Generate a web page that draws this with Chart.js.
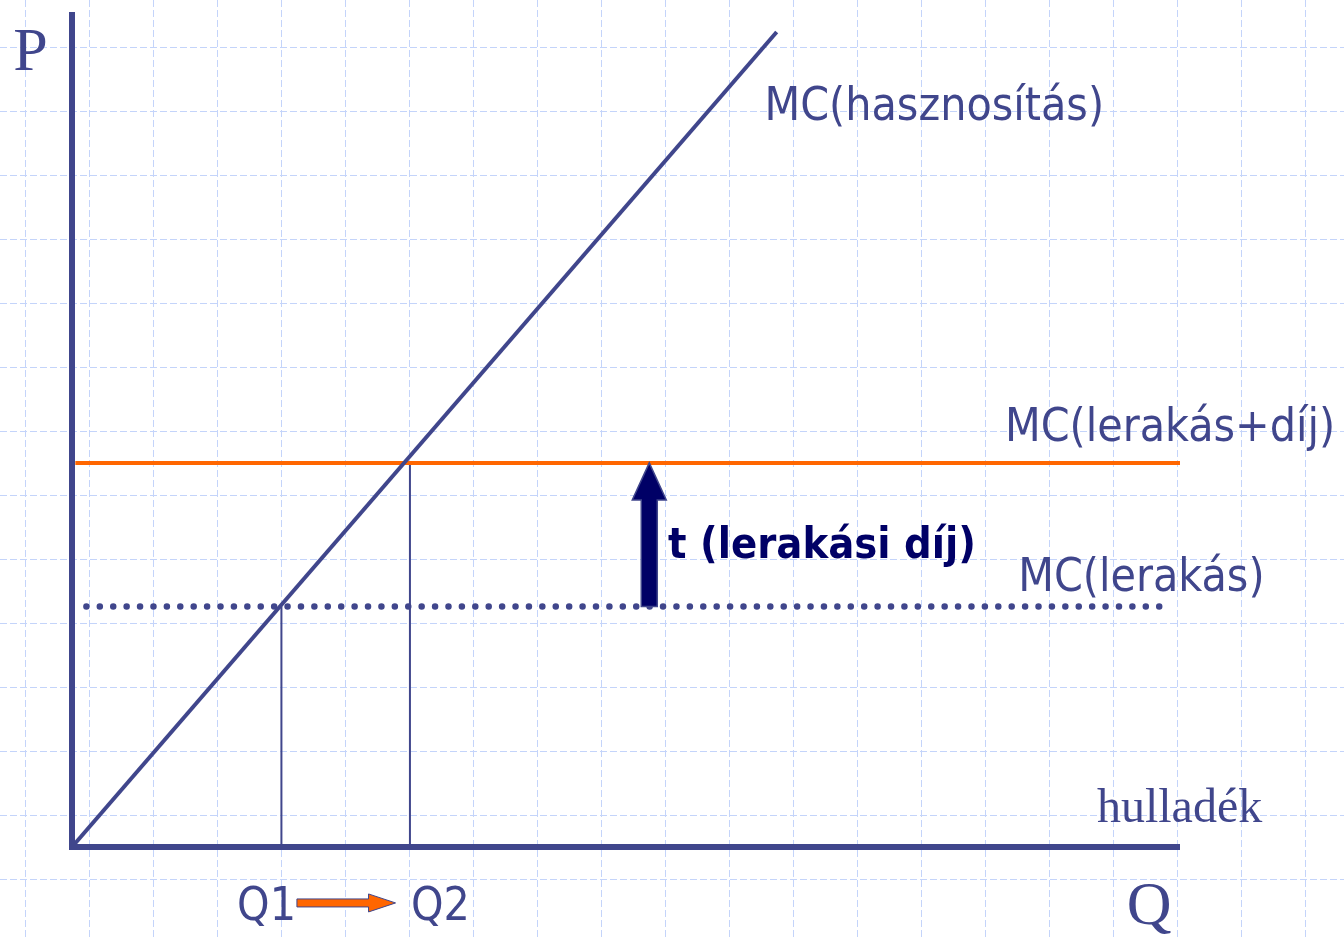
<!DOCTYPE html>
<html>
<head>
<meta charset="utf-8">
<script src="https://cdn.jsdelivr.net/npm/chart.js@4.4.1/dist/chart.umd.min.js"></script>
<style>
html,body{margin:0;padding:0;background:#fff;}
#wrap{position:relative;width:1344px;height:937px;}
canvas{display:block;}
</style>
</head>
<body>
<div id="wrap"><canvas id="c" width="1344" height="937"></canvas></div>
<script>
// ---- data (economic model values, in chart units) ----
const mcHasznositas = [{x:0, y:0}, {x:63.6, y:97.6}];   // rising MC of recovery
const mcLerakasDij  = [{x:0.3, y:46.0}, {x:100, y:46.0}]; // MC of landfill + fee
const mcLerakas     = [{x:1.3, y:28.8}, {x:99.2, y:28.8}]; // MC of landfill
const qValues       = [18.9, 30.5];                        // Q1, Q2
const qLabels       = ['Q1', 'Q2'];
const feeArrowX     = 52.1;
const seriesLabels  = ['MC(hasznosítás)', 'MC(lerakás+díj)', 'MC(lerakás)', 't (lerakási díj)'];
const axisLabels    = ['P', 'Q', 'hulladék'];

const NAVY = '#40468c';
const ORANGE = '#ff6600';
const DARK = '#000066';
const SANS = '"DejaVu Sans Condensed", "DejaVu Sans", sans-serif';
const SERIF = '"Liberation Serif", "Times New Roman", serif';

const bgGrid = {
  id: 'bgGrid',
  beforeDraw(chart) {
    const ctx = chart.ctx;
    ctx.save();
    ctx.fillStyle = '#fff';
    ctx.fillRect(0, 0, chart.width, chart.height);
    ctx.strokeStyle = '#c4d4fa';
    ctx.lineWidth = 1;
    ctx.setLineDash([7, 3]);
    for (let x = 25; x < chart.width; x += 64) {
      ctx.beginPath(); ctx.moveTo(x + 0.5, 0); ctx.lineTo(x + 0.5, chart.height); ctx.stroke();
    }
    for (let y = 47; y < chart.height; y += 64) {
      ctx.beginPath(); ctx.moveTo(0, y + 0.5); ctx.lineTo(chart.width, y + 0.5); ctx.stroke();
    }
    ctx.restore();
  }
};

const overlay = {
  id: 'overlay',
  afterDatasetsDraw(chart) {
    const ctx = chart.ctx;
    const xs = chart.scales.x, ys = chart.scales.y;
    const px = v => xs.getPixelForValue(v);
    const py = v => ys.getPixelForValue(v);
    ctx.save();
    // axes
    ctx.strokeStyle = NAVY;
    ctx.lineWidth = 6;
    ctx.lineCap = 'butt';
    ctx.beginPath();
    ctx.moveTo(px(0), py(100));
    ctx.lineTo(px(0), py(0) + 3);
    ctx.moveTo(px(0) - 3, py(0));
    ctx.lineTo(px(100), py(0));
    ctx.stroke();

    // fee arrow (navy, up)
    const ax = px(feeArrowX);
    const yBot = py(mcLerakas[0].y);
    const yTip = py(mcLerakasDij[0].y);
    const headLen = 37, headHalf = 17, shaftHalf = 8;
    ctx.beginPath();
    ctx.moveTo(ax - shaftHalf, yBot);
    ctx.lineTo(ax - shaftHalf, yTip + headLen);
    ctx.lineTo(ax - headHalf, yTip + headLen);
    ctx.lineTo(ax, yTip);
    ctx.lineTo(ax + headHalf, yTip + headLen);
    ctx.lineTo(ax + shaftHalf, yTip + headLen);
    ctx.lineTo(ax + shaftHalf, yBot);
    ctx.closePath();
    ctx.fillStyle = DARK;
    ctx.fill();
    ctx.lineWidth = 1.5;
    ctx.lineJoin = 'miter';
    ctx.strokeStyle = NAVY;
    ctx.stroke();

    // small orange arrow Q1 -> Q2
    const oy = py(-6.7);
    const ox1 = px(20.3), ox2 = px(29.2);
    ctx.beginPath();
    ctx.moveTo(ox1, oy - 4);
    ctx.lineTo(ox2 - 27, oy - 4);
    ctx.lineTo(ox2 - 27, oy - 9);
    ctx.lineTo(ox2, oy);
    ctx.lineTo(ox2 - 27, oy + 9);
    ctx.lineTo(ox2 - 27, oy + 4);
    ctx.lineTo(ox1, oy + 4);
    ctx.closePath();
    ctx.fillStyle = ORANGE;
    ctx.fill();
    ctx.lineWidth = 1;
    ctx.strokeStyle = NAVY;
    ctx.stroke();

    // texts
    ctx.textAlign = 'left';
    ctx.textBaseline = 'alphabetic';
    ctx.fillStyle = NAVY;
    ctx.font = '46px ' + SANS;
    ctx.fillText(seriesLabels[0], px(62.5), py(87.1));
    ctx.fillText(seriesLabels[1], px(84.2), py(48.6));
    ctx.fillText(seriesLabels[2], px(85.4), py(30.7));
    ctx.fillText(qLabels[0], px(14.9), py(-8.7));
    ctx.fillText(qLabels[1], px(30.6), py(-8.7));

    ctx.font = 'bold 43px ' + SANS;
    ctx.fillStyle = DARK;
    ctx.fillText(seriesLabels[3], px(53.8), py(34.6));

    ctx.fillStyle = NAVY;
    ctx.font = '62px ' + SERIF;
    ctx.fillText(axisLabels[0], px(-5.3), py(93.05));
    ctx.fillText(axisLabels[1], px(95.2), py(-9.2));
    ctx.font = '48px ' + SERIF;
    ctx.fillText(axisLabels[2], px(92.5), py(3.0));
    ctx.restore();
  }
};

new Chart(document.getElementById('c'), {
  type: 'scatter',
  data: {
    datasets: [
      { label: seriesLabels[0], data: mcHasznositas, showLine: true, borderColor: NAVY, borderWidth: 4, pointRadius: 0, clip: false },
      { label: seriesLabels[1], data: mcLerakasDij, showLine: true, borderColor: ORANGE, borderWidth: 4, pointRadius: 0, clip: false },
      { label: seriesLabels[2], data: mcLerakas, showLine: true, borderColor: NAVY, borderWidth: 6.5, borderDash: [0.01, 13.4], borderCapStyle: 'round', pointRadius: 0, clip: false },
      { label: qLabels[0], data: [{x: qValues[0], y: 0}, {x: qValues[0], y: mcLerakas[0].y}], showLine: true, borderColor: NAVY, borderWidth: 2, pointRadius: 0, clip: false },
      { label: qLabels[1], data: [{x: qValues[1], y: 0}, {x: qValues[1], y: mcLerakasDij[0].y}], showLine: true, borderColor: NAVY, borderWidth: 2, pointRadius: 0, clip: false }
    ]
  },
  options: {
    responsive: false,
    animation: false,
    layout: { padding: { left: 72, right: 164, top: 12, bottom: 90 } },
    plugins: { legend: { display: false }, tooltip: { enabled: false } },
    scales: {
      x: { type: 'linear', min: 0, max: 100, display: false },
      y: { type: 'linear', min: 0, max: 100, display: false }
    }
  },
  plugins: [bgGrid, overlay]
});
</script>
</body>
</html>
